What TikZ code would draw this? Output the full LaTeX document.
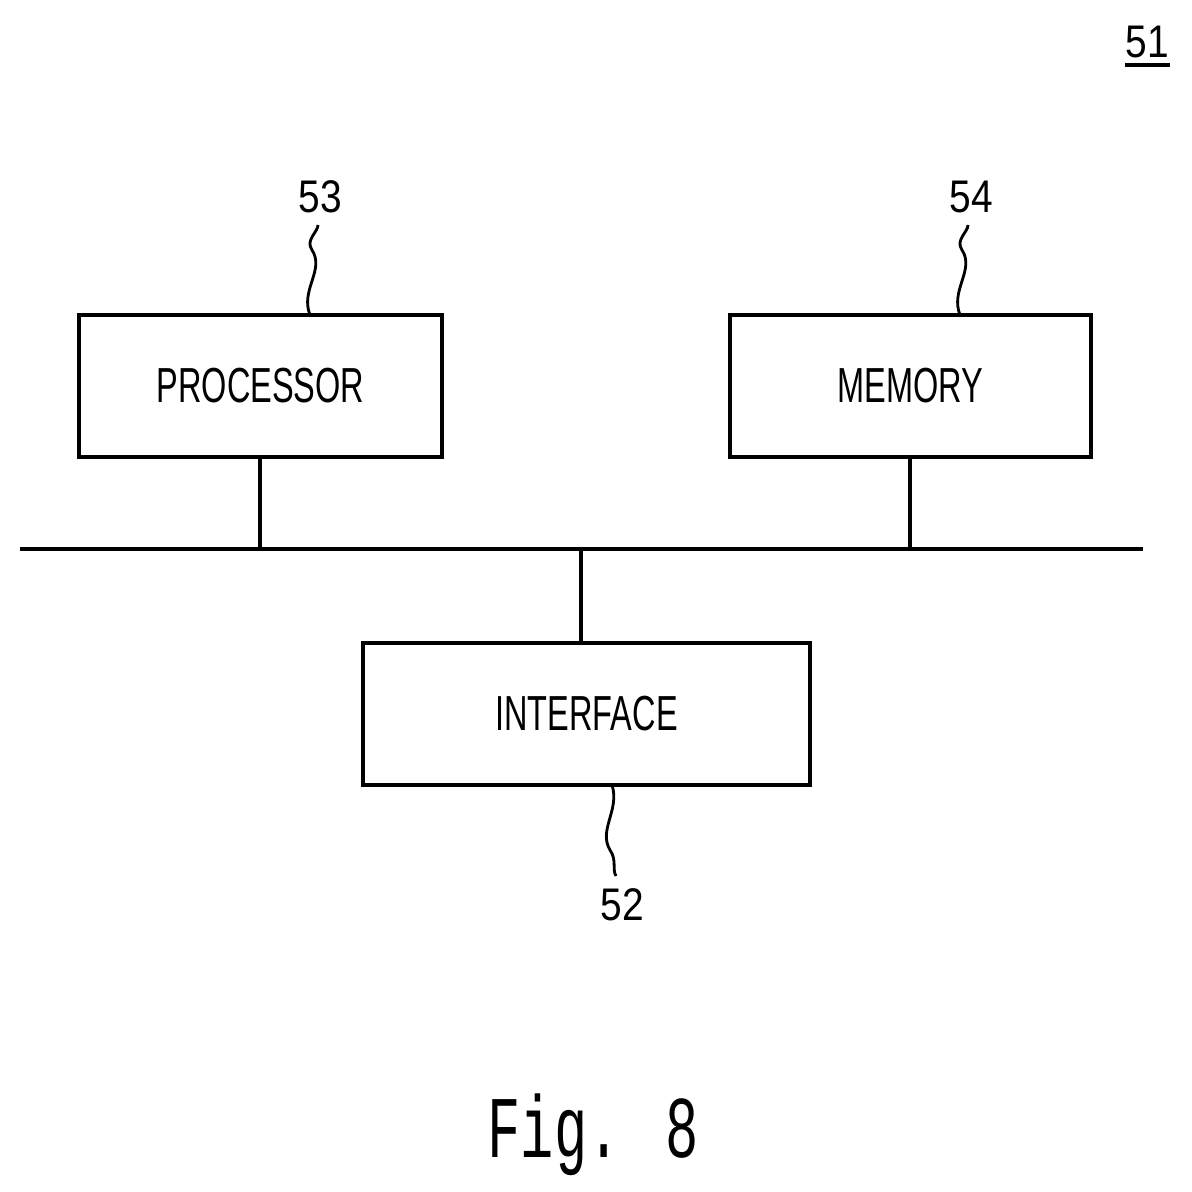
\documentclass[tikz,border=0pt]{standalone}
\usepackage{fontspec}
\setmainfont{Liberation Sans}
\newfontfamily\figfont{Liberation Mono}
\begin{document}
\begin{tikzpicture}[x=0.01cm,y=-0.01cm,
  lbl/.style={font=\fontsize{14}{16}\selectfont,inner sep=0pt},
  num/.style={font=\fontsize{13}{15}\selectfont,inner sep=0pt},
  ln/.style={line width=1.3pt},
  sq/.style={line width=0.8pt}]
\useasboundingbox (0,0) rectangle (1192,1192);
\node[draw,line width=1.1pt,minimum width=3.63cm,minimum height=1.42cm] (p) at (260.5,386) {};
\node[lbl] at (p.center) {\scalebox{0.66}[1]{PROCESSOR}};
\node[draw,line width=1.1pt,minimum width=3.61cm,minimum height=1.42cm] (m) at (910.5,386) {};
\node[lbl] at (m.center) {\scalebox{0.66}[1]{MEMORY}};
\node[draw,line width=1.1pt,minimum width=4.47cm,minimum height=1.42cm] (i) at (586.5,714) {};
\node[lbl] at (i.center) {\scalebox{0.66}[1]{INTERFACE}};
\coordinate (bl) at (20,549); \coordinate (br) at (1143,549);
\draw[ln] (bl) -- (br);
\coordinate (bp) at (260,549); \coordinate (bm) at (910,549); \coordinate (bi) at (581,549);
\draw[ln] (p.south -| bp) -- (bp);
\draw[ln] (m.south -| bm) -- (bm);
\draw[ln] (i.north -| bi) -- (bi);
\node[num] (n53) at (320,197) {\scalebox{0.85}[1]{53}};
\node[num] (n54) at (971,197) {\scalebox{0.85}[1]{54}};
\node[num] (n52) at (622,905) {\scalebox{0.85}[1]{52}};
\node[num] (n51) at (1147,42) {\scalebox{0.85}[1]{51}};
\draw[line width=1pt] (1125,65) -- (1170,65);
\draw[sq] (310,315) .. controls (300,290) and (325,270) .. (312,250) .. controls (305,240) and (318,232) .. (318,225);
\draw[sq] (960,315) .. controls (950,290) and (975,270) .. (962,250) .. controls (955,240) and (968,232) .. (968,225);
\draw[sq] (612,785) .. controls (620,810) and (598,830) .. (610,850) .. controls (617,860) and (612,870) .. (616,876);
\node[inner sep=0pt,font=\figfont\fontsize{25}{28}\selectfont] (fig) at (593,1135) {\scalebox{0.63}[1]{Fig. 8}};
\end{tikzpicture}
\end{document}
